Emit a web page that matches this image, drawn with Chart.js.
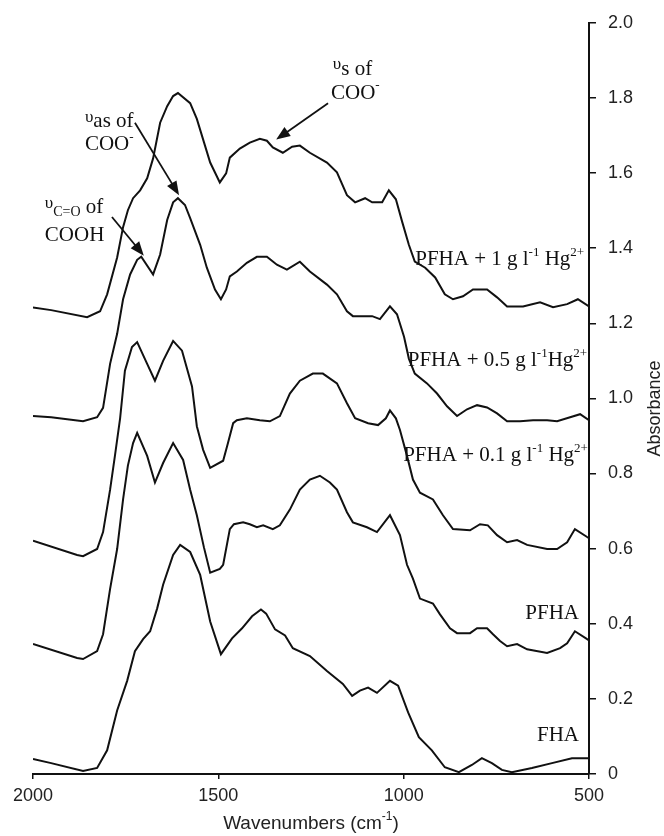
<!DOCTYPE html>
<html>
<head>
<meta charset="utf-8">
<script src="https://cdn.jsdelivr.net/npm/chart.js@4/dist/chart.umd.min.js"></script>
<style>
  body { margin: 0; background: #fff; }
  canvas { display: block; }
</style>
</head>
<body>
<canvas id="chart" width="664" height="836"></canvas>
<script>
// FTIR spectra, absorbance vs wavenumber (cm-1)

const fhaWn = [2000, 1951, 1865, 1827, 1800, 1773, 1746, 1725, 1703, 1684, 1665, 1649, 1622, 1603, 1576, 1549, 1522, 1493, 1463, 1436, 1409, 1385, 1371, 1347, 1320, 1299, 1253, 1207, 1164, 1139, 1118, 1096, 1072, 1037, 1015, 988, 959, 924, 889, 851, 816, 789, 762, 735, 708, 654, 600, 546, 500];
const fhaAbs = [0.040, 0.029, 0.008, 0.016, 0.063, 0.169, 0.248, 0.327, 0.359, 0.380, 0.441, 0.504, 0.583, 0.610, 0.591, 0.530, 0.406, 0.319, 0.361, 0.388, 0.420, 0.438, 0.427, 0.385, 0.369, 0.335, 0.314, 0.274, 0.240, 0.208, 0.222, 0.230, 0.216, 0.248, 0.235, 0.164, 0.098, 0.063, 0.018, 0.005, 0.024, 0.042, 0.029, 0.011, 0.005, 0.016, 0.029, 0.042, 0.042];

const pfhaWn = [2000, 1881, 1865, 1827, 1811, 1792, 1773, 1757, 1744, 1730, 1719, 1692, 1671, 1649, 1622, 1595, 1576, 1558, 1539, 1522, 1496, 1487, 1469, 1458, 1433, 1415, 1396, 1379, 1353, 1334, 1307, 1280, 1253, 1226, 1199, 1180, 1153, 1137, 1099, 1072, 1037, 1010, 991, 975, 956, 921, 902, 875, 856, 821, 802, 775, 759, 740, 721, 694, 667, 613, 578, 559, 538, 505, 500];
const pfhaAbs = [0.346, 0.309, 0.306, 0.327, 0.372, 0.493, 0.599, 0.731, 0.821, 0.881, 0.908, 0.847, 0.776, 0.828, 0.881, 0.836, 0.757, 0.689, 0.604, 0.536, 0.546, 0.557, 0.652, 0.665, 0.670, 0.665, 0.657, 0.662, 0.652, 0.662, 0.704, 0.757, 0.784, 0.794, 0.776, 0.757, 0.697, 0.670, 0.657, 0.644, 0.689, 0.636, 0.557, 0.520, 0.467, 0.454, 0.425, 0.388, 0.375, 0.375, 0.388, 0.388, 0.372, 0.354, 0.340, 0.346, 0.332, 0.322, 0.335, 0.348, 0.380, 0.359, 0.356];

const hg01Wn = [2000, 1881, 1865, 1827, 1811, 1792, 1779, 1765, 1752, 1733, 1719, 1692, 1671, 1649, 1622, 1598, 1571, 1558, 1541, 1522, 1487, 1474, 1460, 1450, 1423, 1388, 1361, 1334, 1307, 1280, 1245, 1218, 1180, 1153, 1131, 1096, 1069, 1048, 1037, 1021, 1010, 991, 975, 956, 921, 894, 867, 821, 794, 773, 748, 721, 694, 667, 613, 586, 559, 538, 505, 500];
const hg01Abs = [0.621, 0.583, 0.580, 0.599, 0.644, 0.757, 0.847, 0.947, 1.074, 1.137, 1.150, 1.092, 1.047, 1.100, 1.153, 1.127, 1.032, 0.926, 0.863, 0.815, 0.834, 0.881, 0.934, 0.942, 0.947, 0.942, 0.939, 0.953, 1.013, 1.047, 1.066, 1.066, 1.040, 0.987, 0.947, 0.934, 0.929, 0.947, 0.968, 0.947, 0.916, 0.847, 0.784, 0.749, 0.731, 0.689, 0.652, 0.649, 0.665, 0.662, 0.636, 0.617, 0.623, 0.610, 0.599, 0.599, 0.617, 0.652, 0.631, 0.628];

const hg05Wn = [2000, 1951, 1865, 1827, 1811, 1792, 1773, 1757, 1738, 1719, 1708, 1676, 1657, 1638, 1622, 1609, 1590, 1576, 1549, 1531, 1509, 1493, 1479, 1469, 1450, 1423, 1396, 1369, 1342, 1315, 1280, 1253, 1207, 1180, 1153, 1137, 1112, 1085, 1064, 1037, 1018, 999, 986, 970, 937, 910, 883, 856, 829, 802, 775, 748, 721, 686, 651, 613, 586, 551, 524, 500];
const hg05Abs = [0.953, 0.950, 0.939, 0.950, 0.975, 1.092, 1.172, 1.264, 1.330, 1.369, 1.377, 1.330, 1.383, 1.475, 1.522, 1.533, 1.515, 1.480, 1.409, 1.348, 1.290, 1.264, 1.290, 1.325, 1.338, 1.361, 1.377, 1.377, 1.356, 1.343, 1.364, 1.338, 1.303, 1.277, 1.232, 1.219, 1.219, 1.219, 1.211, 1.245, 1.224, 1.164, 1.106, 1.066, 1.040, 1.013, 0.979, 0.953, 0.971, 0.982, 0.976, 0.960, 0.939, 0.939, 0.942, 0.942, 0.939, 0.950, 0.958, 0.942];

const hg1Wn = [2000, 1951, 1854, 1819, 1800, 1773, 1757, 1744, 1730, 1711, 1692, 1676, 1657, 1638, 1622, 1609, 1576, 1558, 1536, 1522, 1496, 1479, 1469, 1442, 1415, 1388, 1369, 1353, 1326, 1301, 1280, 1253, 1207, 1180, 1153, 1131, 1104, 1085, 1058, 1040, 1021, 1004, 986, 970, 942, 915, 889, 867, 840, 813, 775, 748, 721, 678, 632, 597, 559, 530, 500];
const hg1Abs = [1.242, 1.235, 1.216, 1.232, 1.277, 1.375, 1.456, 1.501, 1.533, 1.554, 1.586, 1.639, 1.734, 1.778, 1.805, 1.813, 1.786, 1.744, 1.673, 1.628, 1.575, 1.599, 1.641, 1.665, 1.681, 1.691, 1.686, 1.668, 1.654, 1.670, 1.673, 1.654, 1.628, 1.602, 1.541, 1.522, 1.533, 1.522, 1.522, 1.554, 1.530, 1.470, 1.409, 1.364, 1.348, 1.322, 1.277, 1.264, 1.272, 1.290, 1.290, 1.269, 1.245, 1.245, 1.256, 1.243, 1.251, 1.264, 1.245];

const seriesNames = ['FHA', 'PFHA', 'PFHA + 0.1 g l-1 Hg2+', 'PFHA + 0.5 g l-1 Hg2+', 'PFHA + 1 g l-1 Hg2+'];
const seriesWn = [fhaWn, pfhaWn, hg01Wn, hg05Wn, hg1Wn];
const seriesAbs = [fhaAbs, pfhaAbs, hg01Abs, hg05Abs, hg1Abs];

const xTicks = [2000, 1500, 1000, 500];
const yTicks = [0, 0.2, 0.4, 0.6, 0.8, 1.0, 1.2, 1.4, 1.6, 1.8, 2.0];

// curve labels, right aligned at [wavenumber, absorbance]
const curveLabels = [
  { at: [513, 1.369], parts: [{ t: 'PFHA + 1 g l' }, { t: '-1', s: 'sup' }, { t: ' Hg' }, { t: '2+', s: 'sup' }] },
  { at: [505, 1.100], parts: [{ t: 'PFHA + 0.5 g l' }, { t: '-1', s: 'sup' }, { t: 'Hg' }, { t: '2+', s: 'sup' }] },
  { at: [503, 0.847], parts: [{ t: 'PFHA + 0.1 g l' }, { t: '-1', s: 'sup' }, { t: ' Hg' }, { t: '2+', s: 'sup' }] },
  { at: [527, 0.427], parts: [{ t: 'PFHA' }] },
  { at: [527, 0.103], parts: [{ t: 'FHA' }] }
];

// band notes, left aligned at [wavenumber, absorbance]
const bandNotes = [
  { at: [1968, 1.507], parts: [{ t: 'υ', s: 'up' }, { t: 'C=O', s: 'sub' }, { t: ' of' }] },
  { at: [1968, 1.435], parts: [{ t: 'COOH' }] },
  { at: [1860, 1.736], parts: [{ t: 'υ', s: 'up' }, { t: 'as' }, { t: ' of' }] },
  { at: [1860, 1.675], parts: [{ t: 'COO' }, { t: '-', s: 'sup' }] },
  { at: [1191, 1.876], parts: [{ t: 'υ', s: 'up' }, { t: 's' }, { t: ' of' }] },
  { at: [1196, 1.813], parts: [{ t: 'COO' }, { t: '-', s: 'sup' }] }
];

const arrows = [
  { from: [1787, 1.483], to: [1701, 1.380] },
  { from: [1725, 1.734], to: [1606, 1.541] },
  { from: [1204, 1.786], to: [1344, 1.689] }
];

const SERIF = '"Liberation Serif", "Times New Roman", serif';
const SANS = '"Liberation Sans", Arial, sans-serif';

function drawRich(ctx, parts, x, y, align, size, family) {
  const fontFor = p => {
    if (p.s === 'sup') return Math.round(size * 0.62) + 'px ' + family;
    if (p.s === 'sub') return Math.round(size * 0.66) + 'px ' + family;
    if (p.s === 'up') return Math.round(size * 0.8) + 'px ' + family;
    return size + 'px ' + family;
  };
  let total = 0;
  parts.forEach(p => { ctx.font = fontFor(p); total += ctx.measureText(p.t).width; });
  let cx = x;
  if (align === 'right') cx = x - total;
  if (align === 'center') cx = x - total / 2;
  ctx.textAlign = 'left';
  ctx.textBaseline = 'middle';
  parts.forEach(p => {
    ctx.font = fontFor(p);
    let dy = 0;
    if (p.s === 'sup') dy = -size * 0.36;
    if (p.s === 'sub') dy = size * 0.2;
    if (p.s === 'up') dy = -size * 0.22;
    ctx.fillText(p.t, cx, y + dy);
    cx += ctx.measureText(p.t).width;
  });
}

function drawArrow(ctx, x1, y1, x2, y2) {
  const ang = Math.atan2(y2 - y1, x2 - x1);
  const headLen = 14, headW = 5.5;
  ctx.beginPath();
  ctx.moveTo(x1, y1);
  ctx.lineTo(x2 - Math.cos(ang) * headLen * 0.8, y2 - Math.sin(ang) * headLen * 0.8);
  ctx.stroke();
  ctx.beginPath();
  ctx.moveTo(x2, y2);
  ctx.lineTo(x2 - headLen * Math.cos(ang) + headW * Math.sin(ang), y2 - headLen * Math.sin(ang) - headW * Math.cos(ang));
  ctx.lineTo(x2 - headLen * Math.cos(ang) - headW * Math.sin(ang), y2 - headLen * Math.sin(ang) + headW * Math.cos(ang));
  ctx.closePath();
  ctx.fill();
}

const notesPlugin = {
  id: 'notes',
  afterDraw(chart) {
    const ctx = chart.ctx;
    const xs = chart.scales.x, ys = chart.scales.y, area = chart.chartArea;
    ctx.save();
    ctx.fillStyle = '#111';
    ctx.strokeStyle = '#111';
    ctx.lineWidth = 1.8;

    curveLabels.forEach(l => {
      drawRich(ctx, l.parts, xs.getPixelForValue(l.at[0]), ys.getPixelForValue(l.at[1]), 'right', 21, SERIF);
    });
    bandNotes.forEach(n => {
      drawRich(ctx, n.parts, xs.getPixelForValue(n.at[0]), ys.getPixelForValue(n.at[1]), 'left', 21, SERIF);
    });
    arrows.forEach(a => {
      drawArrow(ctx,
        xs.getPixelForValue(a.from[0]), ys.getPixelForValue(a.from[1]),
        xs.getPixelForValue(a.to[0]), ys.getPixelForValue(a.to[1]));
    });

    // axis titles
    ctx.fillStyle = '#222';
    drawRich(ctx, [{ t: 'Wavenumbers (cm' }, { t: '-1', s: 'sup' }, { t: ')' }],
      (area.left + area.right) / 2, area.bottom + 50, 'center', 19, SANS);
    ctx.translate(area.right + 66, (area.top + area.bottom) / 2 + 10);
    ctx.rotate(-Math.PI / 2);
    drawRich(ctx, [{ t: 'Absorbance' }], 0, 0, 'center', 18, SANS);
    ctx.restore();
  }
};

const datasets = seriesNames.map((name, i) => ({
  label: name,
  data: seriesWn[i].map((w, j) => ({ x: w, y: seriesAbs[i][j] })),
  borderColor: '#111',
  borderWidth: 2,
  pointRadius: 0,
  tension: 0,
  fill: false
}));

new Chart(document.getElementById('chart'), {
  type: 'line',
  data: { datasets },
  options: {
    responsive: false,
    animation: false,
    layout: { padding: { left: 33, top: 16, right: 0, bottom: 0 } },
    plugins: { legend: { display: false }, tooltip: { enabled: false } },
    scales: {
      x: {
        type: 'linear',
        reverse: true,
        min: 500,
        max: 2000,
        afterBuildTicks: s => { s.ticks = xTicks.map(v => ({ value: v })); },
        ticks: {
          color: '#222',
          font: { family: SANS, size: 18 },
          padding: 6,
          maxRotation: 0,
          callback: v => String(v)
        },
        grid: { drawOnChartArea: false, tickLength: 5, color: '#111', lineWidth: 1.5 },
        border: { color: '#111', width: 2 },
        afterFit: s => { s.height = 62; }
      },
      y: {
        position: 'right',
        min: 0,
        max: 2,
        afterBuildTicks: s => { s.ticks = yTicks.map(v => ({ value: v })); },
        ticks: {
          color: '#222',
          font: { family: SANS, size: 18 },
          padding: 12,
          callback: v => (v === 0 ? '0' : v.toFixed(1))
        },
        grid: { drawOnChartArea: false, tickLength: 7, color: '#111', lineWidth: 1.5 },
        border: { color: '#111', width: 2 },
        afterFit: s => { s.width = 75; }
      }
    }
  },
  plugins: [notesPlugin]
});
</script>
</body>
</html>
